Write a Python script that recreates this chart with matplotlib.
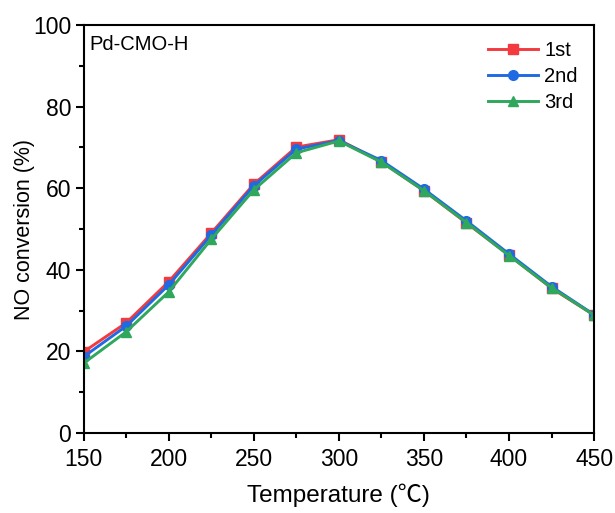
import numpy as np
import matplotlib.pyplot as plt
from matplotlib.ticker import MultipleLocator

plt.rcParams['font.family'] = ['Liberation Sans', 'Noto Sans CJK SC', 'DejaVu Sans']

temperature = [150, 175, 200, 225, 250, 275, 300, 325, 350, 375, 400, 425, 450]
run_1st = [19.9, 27.0, 37.1, 49.0, 61.0, 70.1, 71.9, 66.5, 59.4, 51.5, 43.6, 35.5, 28.9]
run_2nd = [18.7, 26.2, 36.3, 48.5, 60.6, 69.6, 71.7, 66.8, 59.8, 52.0, 43.9, 35.9, 29.0]
run_3rd = [17.1, 24.8, 34.6, 47.5, 59.6, 68.7, 71.6, 66.4, 59.4, 51.6, 43.5, 35.6, 28.9]

series = [
    ('1st', run_1st, '#f23a3f', 's'),
    ('2nd', run_2nd, '#1f6ae3', 'o'),
    ('3rd', run_3rd, '#2fa75c', '^'),
]

fig = plt.figure(figsize=(6.15, 5.13), dpi=100)
ax = fig.add_axes([0.136, 0.156, 0.830, 0.795])

for name, vals, col, mk in series:
    ax.plot(temperature, vals, color=col, marker=mk, markersize=7,
            linewidth=2.1, label=name)

ax.set_xlim(150, 450)
ax.set_ylim(0, 100)
ax.xaxis.set_major_locator(MultipleLocator(50))
ax.xaxis.set_minor_locator(MultipleLocator(25))
ax.yaxis.set_major_locator(MultipleLocator(20))
ax.yaxis.set_minor_locator(MultipleLocator(10))
ax.tick_params(which='major', direction='out', length=6, width=1.5, labelsize=16.5, pad=3)
ax.tick_params(axis='x', which='major', pad=4.5)
ax.tick_params(which='minor', direction='out', length=3.5, width=1.5)
for sp in ax.spines.values():
    sp.set_linewidth(1.5)

ax.set_xlabel('Temperature (℃)', fontsize=17.5, labelpad=9)
ax.set_ylabel('NO conversion (%)', fontsize=15.5, va='center')
ax.yaxis.set_label_coords(-0.116, 0.5)
ax.text(0.012, 0.975, 'Pd-CMO-H', transform=ax.transAxes, fontsize=14.5,
        ha='left', va='top')

ax.legend(loc='upper right', frameon=False, fontsize=14.5, handlelength=2.5,
          handletextpad=0.3, labelspacing=0.35, borderaxespad=0.4)

fig.savefig('out.png', dpi=100)
